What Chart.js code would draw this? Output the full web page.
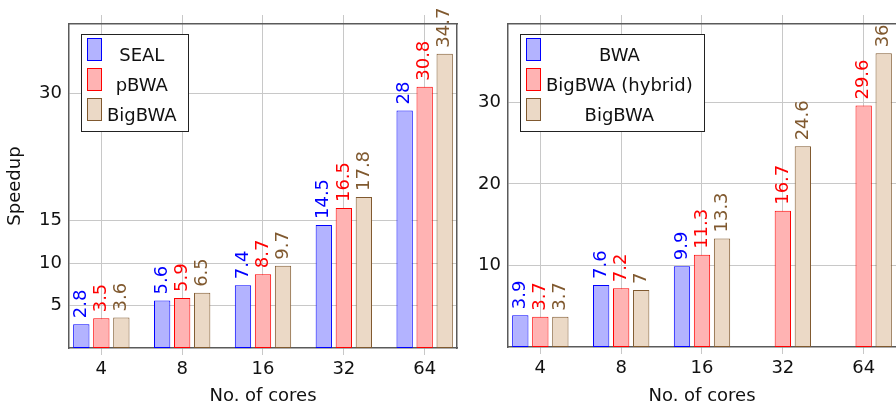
<!DOCTYPE html>
<html>
<head>
<meta charset="utf-8">
<script src="https://cdn.jsdelivr.net/npm/chart.js@4.4.1/dist/chart.umd.min.js"></script>
<style>
  html, body { margin: 0; padding: 0; background: #ffffff; }
  #wrap { position: relative; width: 896px; height: 405px; overflow: hidden; }
  #left { position: absolute; left: 0; top: 0; }
  #right { position: absolute; left: 470px; top: 0; }
</style>
</head>
<body>
<div id="wrap">
  <canvas id="left" width="470" height="405"></canvas>
  <canvas id="right" width="426" height="405"></canvas>
</div>
<script>
// ---- data ----
const cores = ['4', '8', '16', '32', '64'];

const leftLabels = ['SEAL', 'pBWA', 'BigBWA'];
const sealSpeedup = [2.8, 5.6, 7.4, 14.5, 28];
const pbwaSpeedup = [3.5, 5.9, 8.7, 16.5, 30.8];
const bigbwaLeftSpeedup = [3.6, 6.5, 9.7, 17.8, 34.7];
const leftYTicks = [5, 10, 15, 30];

const rightLabels = ['BWA', 'BigBWA (hybrid)', 'BigBWA'];
const bwaSpeedup = [3.9, 7.6, 9.9, null, null];
const hybridSpeedup = [3.7, 7.2, 11.3, 16.7, 29.6];
const bigbwaRightSpeedup = [3.7, 7, 13.3, 24.6, 36];
const rightYTicks = [10, 20, 30];

const yTitle = 'Speedup';
const xTitle = 'No. of cores';

// ---- styles ----
const FONT = 'DejaVu Sans';
const styles = [
  { fill: '#b3b3ff', border: '#0000ff', text: '#0000ff' },
  { fill: '#ffb3b3', border: '#ff0000', text: '#ff0000' },
  { fill: '#ebd9c6', border: '#80592f', text: '#80592f' }
];
const GRID = '#c8c8c8';
const AXIS = '#5a5a5a';

Chart.defaults.font.family = FONT;
Chart.defaults.font.size = 18;
Chart.defaults.color = '#111111';

function toPoints(arr) { return arr.map((v, i) => ({ x: i, y: v })); }

function makeDatasets(labels, series) {
  return series.map((s, k) => ({
    label: labels[k],
    data: toPoints(s),
    backgroundColor: styles[k].fill,
    borderColor: styles[k].border,
    borderWidth: 1,
    borderSkipped: false,
    labelColor: styles[k].text,
    categoryPercentage: 0.743,
    barPercentage: 0.815
  }));
}

const valueLabels = {
  id: 'valueLabels',
  afterDatasetsDraw(chart) {
    const ctx = chart.ctx;
    chart.data.datasets.forEach((ds, i) => {
      const meta = chart.getDatasetMeta(i);
      meta.data.forEach((bar, j) => {
        const v = ds.data[j].y;
        if (v === null || v === undefined) return;
        ctx.save();
        ctx.translate(bar.x, bar.y - 6);
        ctx.rotate(-Math.PI / 2);
        ctx.font = '18px "' + FONT + '"';
        ctx.fillStyle = ds.labelColor;
        ctx.textAlign = 'left';
        ctx.textBaseline = 'middle';
        ctx.fillText(String(v), 0, 0);
        ctx.restore();
      });
    });
  }
};

const boxLegend = {
  id: 'boxLegend',
  afterDraw(chart) {
    const ctx = chart.ctx;
    const ca = chart.chartArea;
    const dss = chart.data.datasets;
    ctx.save();
    ctx.font = '18px "' + FONT + '"';
    const maxW = Math.max(...dss.map(d => ctx.measureText(d.label).width));
    const x0 = Math.round(ca.left + 12), y0 = Math.round(ca.top + 10);
    const sw = 15, sh = 23, pitch = 30;
    const w = Math.round(6 + sw + 5 + maxW + 11);
    const h = 4 + pitch * dss.length + 3;
    ctx.fillStyle = '#ffffff';
    ctx.fillRect(x0, y0, w, h);
    ctx.strokeStyle = '#222222';
    ctx.lineWidth = 1;
    ctx.strokeRect(x0 + 0.5, y0 + 0.5, w, h);
    dss.forEach((d, i) => {
      const sx = x0 + 6, sy = y0 + 4 + pitch * i;
      ctx.fillStyle = d.backgroundColor;
      ctx.fillRect(sx, sy, sw, sh);
      ctx.strokeStyle = d.borderColor;
      ctx.strokeRect(sx + 0.5, sy + 0.5, sw - 1, sh - 1);
      ctx.fillStyle = '#111111';
      ctx.textAlign = 'center';
      ctx.textBaseline = 'alphabetic';
      ctx.fillText(d.label, sx + sw + 5 + maxW / 2, sy + sh);
    });
    ctx.restore();
  }
};

function catTicks(axis) { axis.ticks = cores.map((c, i) => ({ value: i })); }

function makeOptions(cfg) {
  const scales = {
    x: {
      type: 'linear', position: 'bottom', min: -0.4, max: 4.4, offset: false,
      afterBuildTicks: catTicks,
      afterFit(s) { s.height = cfg.bottomH; },
      ticks: { callback: (v) => cores[v], padding: 4, maxRotation: 0, color: '#111' },
      grid: { offset: false, color: GRID, tickColor: GRID, tickLength: 7, lineWidth: 1 },
      border: { display: true, color: AXIS, width: 1.5 },
      title: { display: true, text: xTitle, padding: { top: 0, bottom: 0 }, font: { size: 18, lineHeight: 1.0 }, color: '#111' }
    },
    x2: {
      type: 'linear', position: 'top', min: -0.4, max: 4.4, offset: false,
      afterBuildTicks: catTicks,
      afterFit(s) { s.height = cfg.topH; },
      ticks: { display: false },
      grid: { offset: false, drawOnChartArea: false, color: GRID, tickColor: GRID, tickLength: 9 },
      border: { display: true, color: AXIS, width: 1.5 }
    },
    y: {
      type: 'linear', position: 'left', min: 0, max: cfg.yMax,
      afterBuildTicks(axis) { axis.ticks = cfg.yTicks.map(v => ({ value: v })); },
      afterFit(s) { s.width = cfg.leftW; },
      ticks: { padding: 7, color: '#111' },
      grid: { color: GRID, drawTicks: false, lineWidth: 1 },
      border: { display: true, color: AXIS, width: 1.5 },
      title: cfg.yTitle ? { display: true, text: cfg.yTitle, padding: { top: 5, bottom: 0 }, font: { size: 18, lineHeight: 1.2 }, color: '#111' } : { display: false }
    }
  };
  if (cfg.rightFrame) {
    scales.y2 = {
      type: 'linear', position: 'right', min: 0, max: cfg.yMax,
      afterBuildTicks(axis) { axis.ticks = cfg.yTicks.map(v => ({ value: v })); },
      afterFit(s) { s.width = 0; },
      ticks: { display: false },
      grid: { drawOnChartArea: false, drawTicks: false },
      border: { display: true, color: AXIS, width: 1.5 }
    };
  }
  return {
    responsive: false,
    animation: false,
    devicePixelRatio: 1,
    layout: { padding: cfg.padding },
    plugins: { legend: { display: false }, tooltip: { enabled: false }, title: { display: false } },
    scales: scales
  };
}

new Chart(document.getElementById('left'), {
  type: 'bar',
  data: { datasets: makeDatasets(leftLabels, [sealSpeedup, pbwaSpeedup, bigbwaLeftSpeedup]) },
  options: makeOptions({ yMax: 38.2, yTicks: leftYTicks, leftW: 69, bottomH: 57, topH: 24, rightFrame: true, yTitle: yTitle, padding: { left: 0, right: 13, top: 0, bottom: 0 } }),
  plugins: [valueLabels, boxLegend]
});

new Chart(document.getElementById('right'), {
  type: 'bar',
  data: { datasets: makeDatasets(rightLabels, [bwaSpeedup, hybridSpeedup, bigbwaRightSpeedup]) },
  options: makeOptions({ yMax: 39.6, yTicks: rightYTicks, leftW: 38, bottomH: 58, topH: 24, rightFrame: false, yTitle: null, padding: { left: 0, right: 0, top: 0, bottom: 0 } }),
  plugins: [valueLabels, boxLegend]
});
</script>
</body>
</html>
